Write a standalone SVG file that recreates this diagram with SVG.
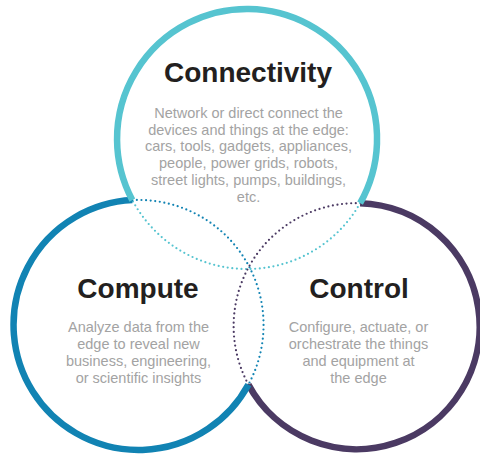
<svg xmlns="http://www.w3.org/2000/svg" width="480" height="454" viewBox="0 0 480 454">
<style>
.solid{fill:none;stroke-width:6.5;stroke-linecap:butt}
.dot{fill:none;stroke-width:2.2;stroke-linecap:round;stroke-dasharray:0 4.6}
.cy{stroke:#56c4d0}
.bl{stroke:#1183b3}
.pu{stroke:#4b3a63}
.h{font-family:"Liberation Sans",Arial,sans-serif;font-weight:bold;font-size:28px;fill:#231f20;text-anchor:middle}
.b{font-family:"Liberation Sans",Arial,sans-serif;font-size:14.5px;fill:#a3a3a3;text-anchor:middle}
</style>
<rect width="480" height="454" fill="#ffffff"/>
<g id="connectors">
<path class="dot cy" d="M360.1,203.2 A130,130 0 0 1 132.3,200.1"/>
<path class="dot bl" d="M132.3,200.1 A125,125 0 0 1 248.4,384.6"/>
<path class="dot pu" d="M248.4,384.6 A123,123 0 0 1 360.1,203.2"/>
</g>
<g id="control">
<path class="solid pu" d="M360.1,203.2 A123,123 0 1 1 248.4,384.6"/>
<text class="h" x="359" y="298">Control</text>
<text class="b" x="358.5" y="332">Configure, actuate, or</text>
<text class="b" x="358.5" y="349">orchestrate the things</text>
<text class="b" x="358.5" y="366">and equipment at</text>
<text class="b" x="358.5" y="383">the edge</text>
</g>
<g id="compute">
<path class="solid bl" d="M132.3,200.1 A125,125 0 1 0 248.4,384.6"/>
<text class="h" x="138" y="298">Compute</text>
<text class="b" x="138.5" y="332">Analyze data from the</text>
<text class="b" x="138.5" y="349">edge to reveal new</text>
<text class="b" x="138.5" y="366">business, engineering,</text>
<text class="b" x="138.5" y="383">or scientific insights</text>
</g>
<g id="connectivity">
<path class="solid cy" d="M132.3,200.1 A130,130 0 1 1 360.1,203.2"/>
<text class="h" x="248" y="82">Connectivity</text>
<text class="b" x="248.5" y="118">Network or direct connect the</text>
<text class="b" x="248.5" y="134.7">devices and things at the edge:</text>
<text class="b" x="248.5" y="151.4">cars, tools, gadgets, appliances,</text>
<text class="b" x="248.5" y="168.1">people, power grids, robots,</text>
<text class="b" x="248.5" y="184.8">street lights, pumps, buildings,</text>
<text class="b" x="248.5" y="201.5">etc.</text>
</g>
</svg>
